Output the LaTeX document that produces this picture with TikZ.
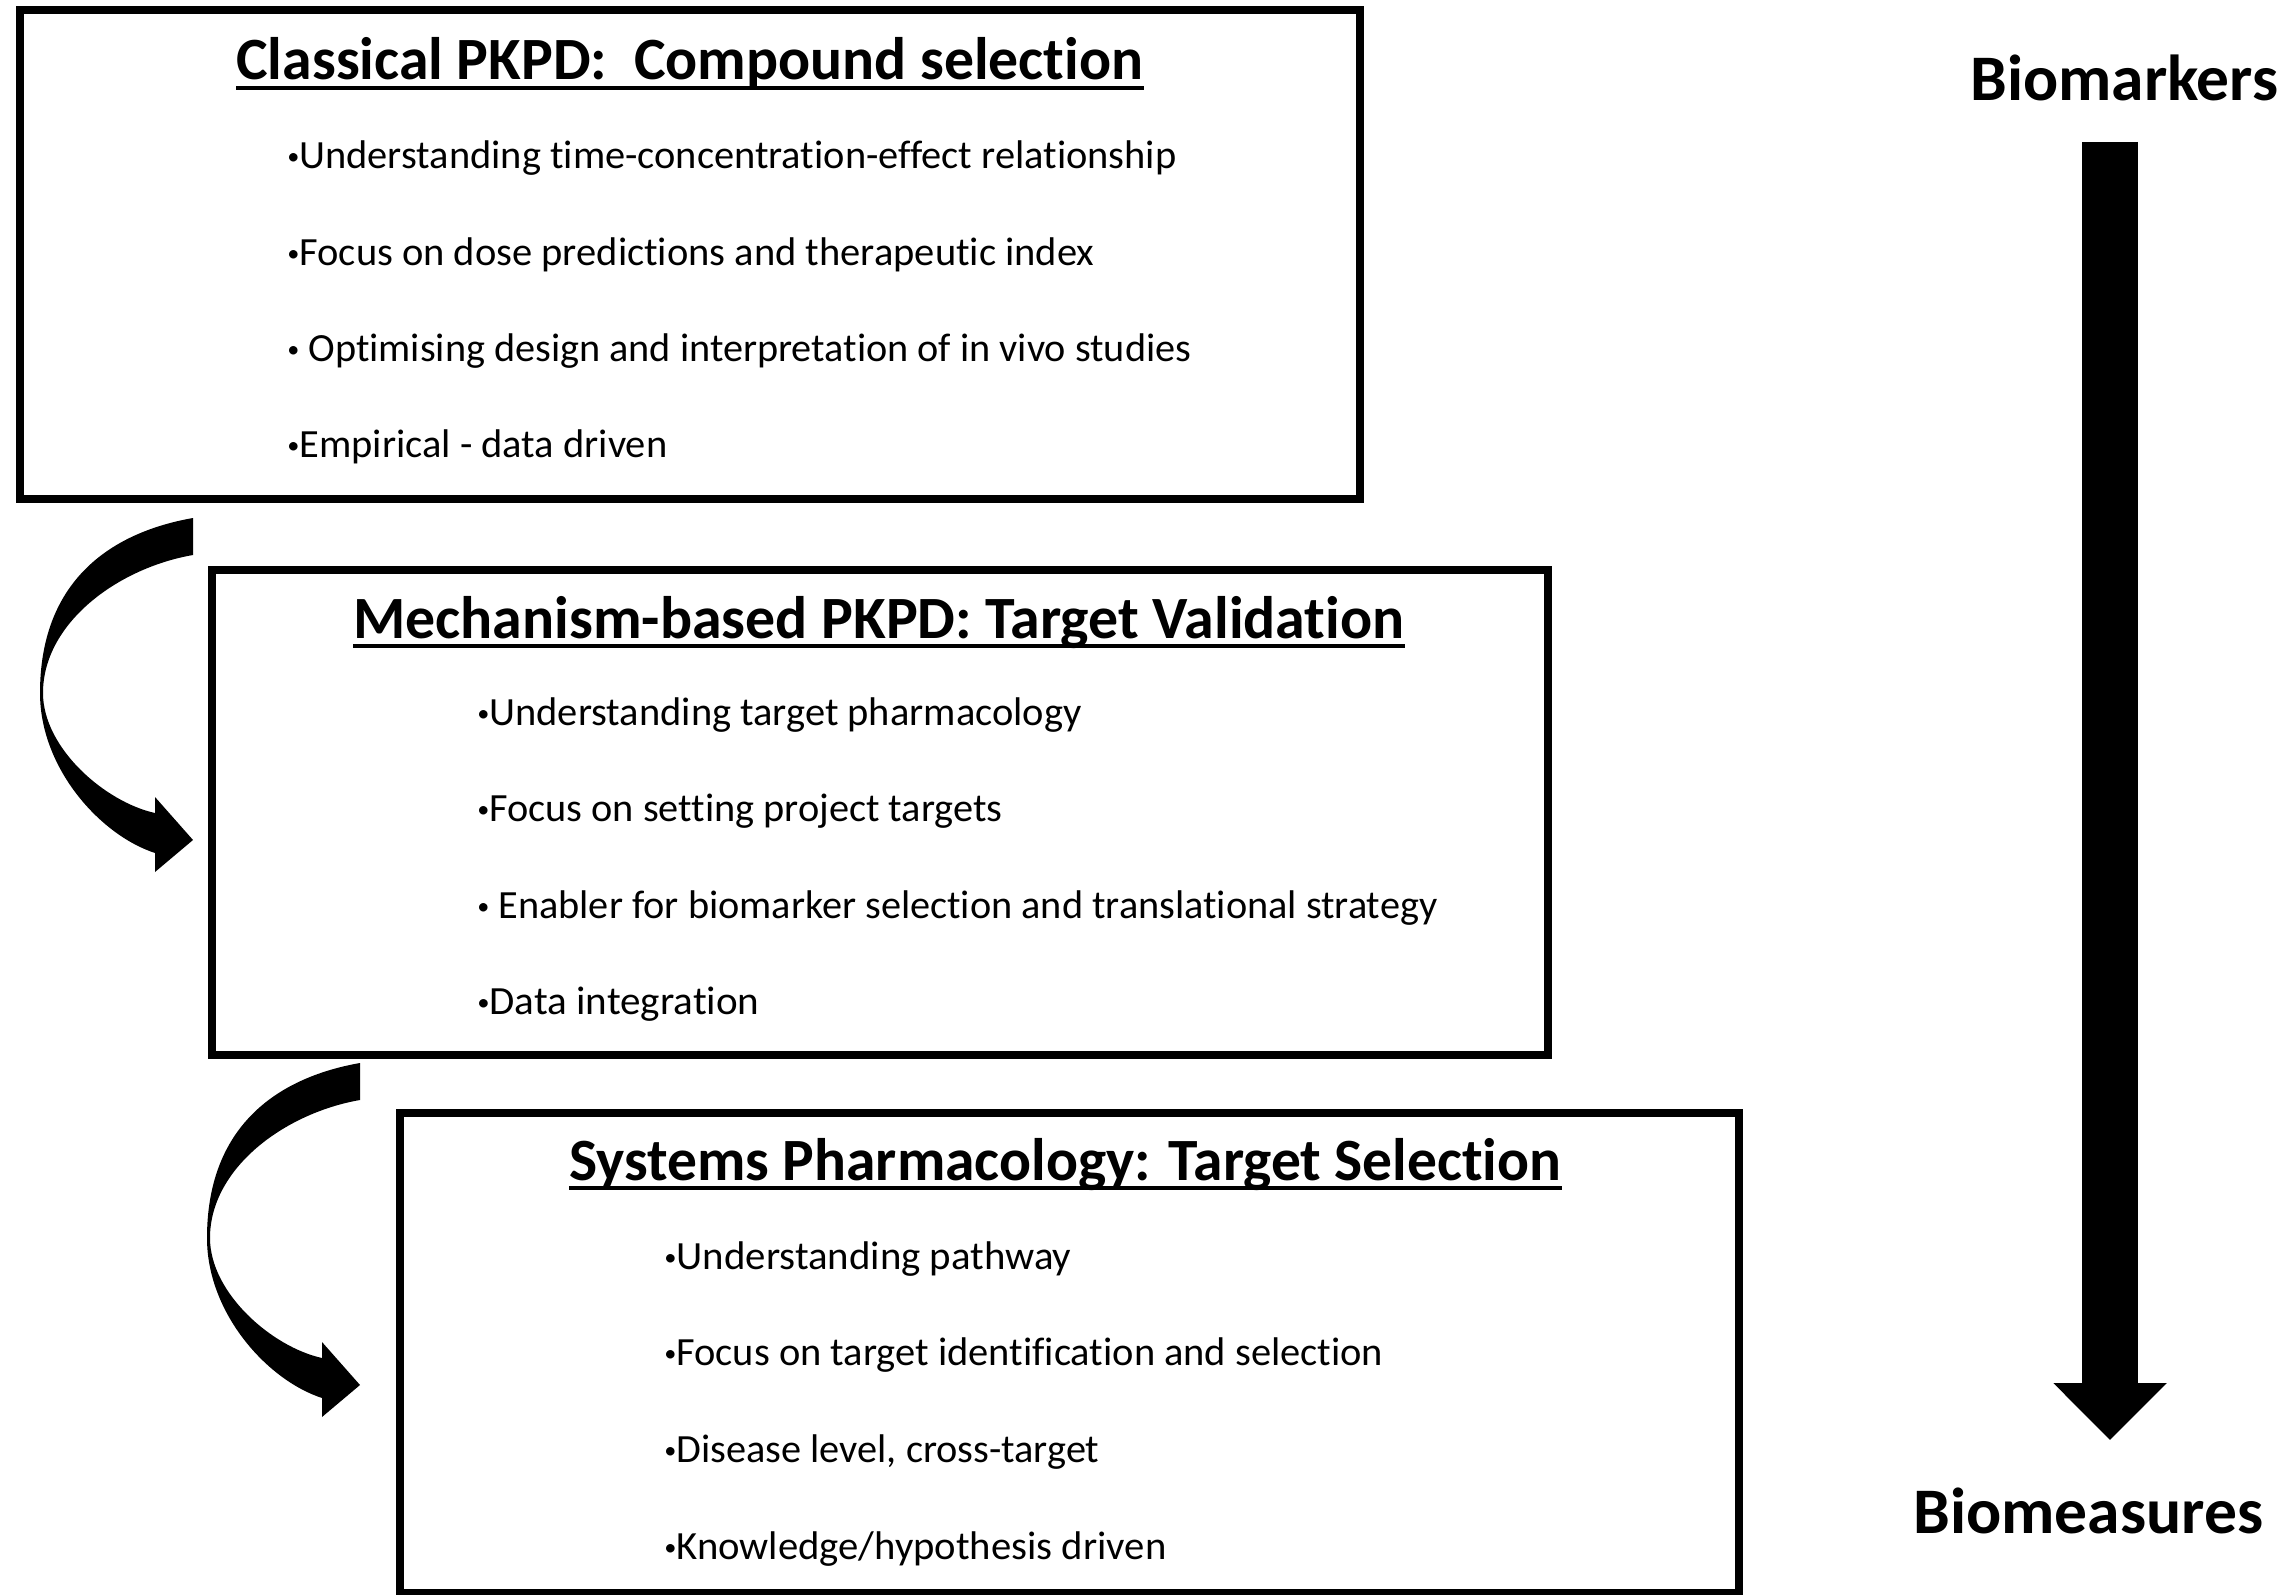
\documentclass[tikz,border=0pt]{standalone}
\usepackage{fontspec}
\setmainfont{Carlito}[Ligatures=NoCommon]
\usepackage{graphicx}
\usetikzlibrary{calc,arrows.meta}
\newcommand\fitto[2]{\resizebox{#1}{\height}{#2}}
\newcommand\bu{\raisebox{0.1em}{\scalebox{0.6}{•}}}
\tikzset{
  panel/.style={draw=black, line width=4pt, inner sep=0pt},
  bul/.style={anchor=base west, inner sep=0pt, font=\fontsize{20}{24}\selectfont},
  ttl/.style={anchor=base west, inner sep=0pt, font=\bfseries\fontsize{30}{36}\selectfont},
  side/.style={anchor=base west, inner sep=0pt, font=\bfseries\fontsize{32.5}{38}\selectfont},
  uline/.style={line width=2.3pt},
  bigarrow/.style={line width=28pt, -{Triangle[width=55pt,length=28.5pt]}},
  curvarrow/.pic={
    \fill[black] (193,518) .. controls (108,533) and (40,583) .. (40,693)
      .. controls (40,768) and (100,835) .. (155,853) -- (155,872) -- (193,840)
      -- (155,797) -- (155,813) .. controls (105,802) and (43,748) .. (43,693)
      .. controls (43,623) and (118,568) .. (193,555) -- cycle;
  }
}
\begin{document}
\begin{tikzpicture}[x=0.5pt,y=-0.5pt]
\useasboundingbox (0,0) rectangle (2288,1595);
\fill[white] (0,0) rectangle (2288,1595);

% panels
\node[panel, minimum width=670pt, minimum height=244.5pt] (box1) at (690,254.5) {};
\node[panel, minimum width=668pt, minimum height=242.5pt] (box2) at (880,812.5) {};
\node[panel, minimum width=669.5pt, minimum height=240pt] (box3) at (1069.5,1353) {};

% titles
\node[ttl] (t1) at (236,80) {\fitto{453.5pt}{Classical PKPD:\ \ Compound selection}};
\node[ttl] (t2) at (353,638) {\fitto{525.5pt}{Mechanism-based PKPD: Target Validation}};
\node[ttl] (t3) at (569,1180) {\fitto{496pt}{Systems Pharmacology: Target Selection}};
\foreach \t in {t1,t2,t3}
  \draw[uline] ($(\t.base west)+(0,8)$) -- ($(\t.base east)+(0,8)$);

% box 1 bullets
\node[bul] (b11) at (287,169) {\fitto{444.5pt}{\bu Understanding time-concentration-effect relationship}};
\node[bul] (b12) at (287,265) {\fitto{403.5pt}{\bu Focus on dose predictions and therapeutic index}};
\node[bul] (b13) at (287,361) {\fitto{452pt}{\bu{} Optimising design and interpretation of in vivo studies}};
\node[bul] (b14) at (287,457) {\fitto{190pt}{\bu Empirical - data driven}};

% box 2 bullets
\node[bul] (b21) at (477,725) {\fitto{302pt}{\bu Understanding target pharmacology}};
\node[bul] (b22) at (477,821) {\fitto{262.5pt}{\bu Focus on setting project targets}};
\node[bul] (b23) at (477,918) {\fitto{480pt}{\bu{} Enabler for biomarker selection and translational strategy}};
\node[bul] (b24) at (477,1014) {\fitto{141pt}{\bu Data integration}};

% box 3 bullets
\node[bul] (b31) at (664,1269) {\fitto{203.5pt}{\bu Understanding pathway}};
\node[bul] (b32) at (664,1365) {\fitto{359.5pt}{\bu Focus on target identification and selection}};
\node[bul] (b33) at (664,1462) {\fitto{217.5pt}{\bu Disease level, cross-target}};
\node[bul] (b34) at (664,1559) {\fitto{251pt}{\bu Knowledge/hypothesis driven}};

% curved arrows
\pic at (0,0) {curvarrow};
\pic at (167,545) {curvarrow};

% side labels and big arrow
\node[side] (bm) at (1970,100) {\fitto{154pt}{Biomarkers}};
\node[side] (bs) at (1913,1533) {\fitto{175pt}{Biomeasures}};
\coordinate (atop) at (2110,142);
\coordinate (abot) at (2110,1440);
\draw[bigarrow] (atop) -- (abot);
\end{tikzpicture}
\end{document}
